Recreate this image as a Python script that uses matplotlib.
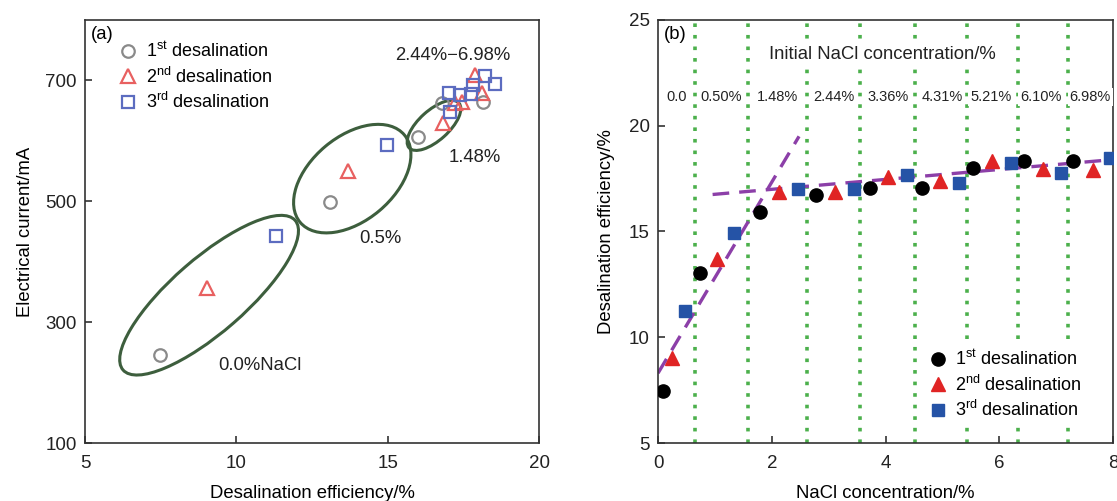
import numpy as np
import matplotlib.pyplot as plt
from matplotlib.patches import Ellipse
from matplotlib.transforms import ScaledTranslation

plt.rcParams['font.family'] = ['Liberation Sans', 'DejaVu Sans']
plt.rcParams['mathtext.fontset'] = 'custom'
plt.rcParams['mathtext.rm'] = 'Liberation Sans'
plt.rcParams['axes.edgecolor'] = '#333333'

# ---- panel (a): efficiency vs current ----
a1_eff = [7.48, 13.09, 15.99, 16.78, 18.16]
a1_cur = [245.6, 499.3, 606.9, 662.2, 664.8]
a2_eff = [9.04, 13.68, 16.82, 17.22, 17.45, 17.88, 18.11]
a2_cur = [356.0, 550.6, 629.1, 662.7, 664.8, 709.0, 678.7]
a3_eff = [11.30, 14.97, 17.06, 17.04, 17.39, 17.75, 17.83, 18.21, 18.54]
a3_cur = [442.6, 593.1, 648.3, 678.7, 675.9, 677.0, 692.4, 707.3, 694.1]

# groups circled: center (data), width/height (in), angle (deg)
group_centers = [(9.10, 344.6), (13.83, 537.5), (16.53, 625.6)]
group_sizes = [(2.28, 0.74), (1.36, 0.84), (0.67, 0.30)]
group_angles = [41, 40, 42]
group_labels = ["0.0%NaCl", "0.5%", "1.48%", "2.44%\u22126.98%"]
group_label_pos = [(10.78, 229), (14.75, 439), (17.88, 572), (17.16, 742)]

# ---- panel (b): concentration vs efficiency ----
b1_conc = [0.09, 0.74, 1.80, 2.78, 3.72, 4.64, 5.54, 6.43, 7.30]
b1_eff = [7.46, 13.02, 15.94, 16.73, 17.04, 17.04, 17.99, 18.35, 18.33]
b2_conc = [0.25, 1.03, 2.12, 3.12, 4.05, 4.95, 5.87, 6.77, 7.64]
b2_eff = [9.00, 13.69, 16.88, 16.88, 17.59, 17.39, 18.35, 17.94, 17.91]
b3_conc = [0.48, 1.33, 2.46, 3.45, 4.37, 5.29, 6.20, 7.08, 7.95]
b3_eff = [11.24, 14.94, 16.99, 16.99, 17.67, 17.28, 18.25, 17.75, 18.49]

fit1_x = [0.0, 2.48]
fit1_y = [8.3, 19.5]
fit2_x = [0.96, 8.0]
fit2_y = [16.75, 18.4]

bounds = [0.647, 1.586, 2.625, 3.56, 4.51, 5.43, 6.33, 7.21]
init_labels = ["0.0", "0.50%", "1.48%", "2.44%", "3.36%", "4.31%", "5.21%", "6.10%", "6.98%"]
init_label_x = [0.32, 1.11, 2.10, 3.10, 4.05, 4.99, 5.85, 6.73, 7.60]

legend_labels = ["1$^{\\rm st}$ desalination", "2$^{\\rm nd}$ desalination",
                 "3$^{\\rm rd}$ desalination"]

FS = 13.3

fig = plt.figure(figsize=(11.17, 5.01), dpi=100)
ax1 = fig.add_axes([85 / 1117, 58 / 501, 454 / 1117, 423 / 501])
ax2 = fig.add_axes([658 / 1117, 58 / 501, 455 / 1117, 423 / 501])

for ax in (ax1, ax2):
    ax.tick_params(direction='in', length=5, width=1.1, labelsize=13.5,
                   colors='#222222', pad=6)
    ax.tick_params(axis='x', pad=9)
    for sp in ax.spines.values():
        sp.set_linewidth(1.2)

# panel (a)
ax1.plot(a1_eff, a1_cur, 'o', ms=9, mfc='none', mec='#8a8a8a', mew=1.6,
         label=legend_labels[0])
ax1.plot(a2_eff, a2_cur, '^', ms=10, mfc='none', mec='#e86060', mew=1.6,
         label=legend_labels[1])
ax1.plot(a3_eff, a3_cur, 's', ms=9, mfc='none', mec='#5c6cc0', mew=1.6,
         label=legend_labels[2])

for c, (w, h), ang in zip(group_centers, group_sizes, group_angles):
    tr = fig.dpi_scale_trans + ScaledTranslation(c[0], c[1], ax1.transData)
    ax1.add_patch(Ellipse((0, 0), w, h, angle=ang, transform=tr, fill=False,
                          ec='#3d5e3d', lw=2.2))

for txt, (x, y) in zip(group_labels, group_label_pos):
    ax1.text(x, y, txt, fontsize=FS, ha='center', va='center', color='#222222')

ax1.set_xlim(5, 20)
ax1.set_ylim(100, 800)
ax1.set_xticks([5, 10, 15, 20])
ax1.set_yticks([100, 300, 500, 700])
ax1.set_xlabel("Desalination efficiency/%", fontsize=FS, labelpad=9)
ax1.set_ylabel("Electrical current/mA", fontsize=FS, labelpad=8)
ax1.text(0.012, 0.965, "(a)", transform=ax1.transAxes, fontsize=FS,
         va='center', ha='left')
ax1.legend(loc='upper left', bbox_to_anchor=(0.05, 0.975), frameon=False,
           fontsize=13, handlelength=1.0, handletextpad=0.5,
           labelspacing=0.3, borderaxespad=0.2)

# panel (b)
for bx in bounds:
    ax2.axvline(bx, color='#4cb04c', ls=(0, (1, 2.2)), lw=2.6, zorder=1)

ax2.plot(fit1_x, fit1_y, color='#8c3fa8', ls=(0, (5, 3)), lw=2.4, zorder=2)
ax2.plot(fit2_x, fit2_y, color='#8c3fa8', ls=(0, (5, 3)), lw=2.4, zorder=2)

ax2.plot(b1_conc, b1_eff, 'o', ms=9.5, color='black', zorder=4,
         label=legend_labels[0])
ax2.plot(b2_conc, b2_eff, '^', ms=10, color='#e02424', zorder=4,
         label=legend_labels[1])
ax2.plot(b3_conc, b3_eff, 's', ms=9, color='#2553a6', zorder=4,
         label=legend_labels[2])

for txt, x in zip(init_labels, init_label_x):
    ax2.text(x, 21.35, txt, fontsize=10.5, ha='center', va='center',
             color='#222222', zorder=3,
             bbox=dict(fc='white', ec='none', pad=1.5))
ax2.text(3.95, 23.35, "Initial NaCl concentration/%", fontsize=FS,
         ha='center', va='center', color='#222222', zorder=3,
         bbox=dict(fc='white', ec='none', pad=2))
ax2.text(0.012, 0.965, "(b)", transform=ax2.transAxes, fontsize=FS,
         va='center', ha='left', zorder=3,
         bbox=dict(fc='white', ec='none', pad=0.5))

ax2.set_xlim(0, 8)
ax2.set_ylim(5, 25)
ax2.set_xticks([0, 2, 4, 6, 8])
ax2.set_yticks([5, 10, 15, 20, 25])
ax2.set_xlabel("NaCl concentration/%", fontsize=FS, labelpad=9)
ax2.set_ylabel("Desalination efficiency/%", fontsize=FS, labelpad=10)
leg = ax2.legend(loc='lower right', bbox_to_anchor=(0.962, 0.02),
                 frameon=True, fontsize=13, handlelength=1.0,
                 handletextpad=0.4, labelspacing=0.3, borderpad=0.3)
leg.get_frame().set_edgecolor('none')
leg.get_frame().set_facecolor('white')
leg.get_frame().set_alpha(1)
leg.set_zorder(5)

fig.savefig("out.png", dpi=100)
